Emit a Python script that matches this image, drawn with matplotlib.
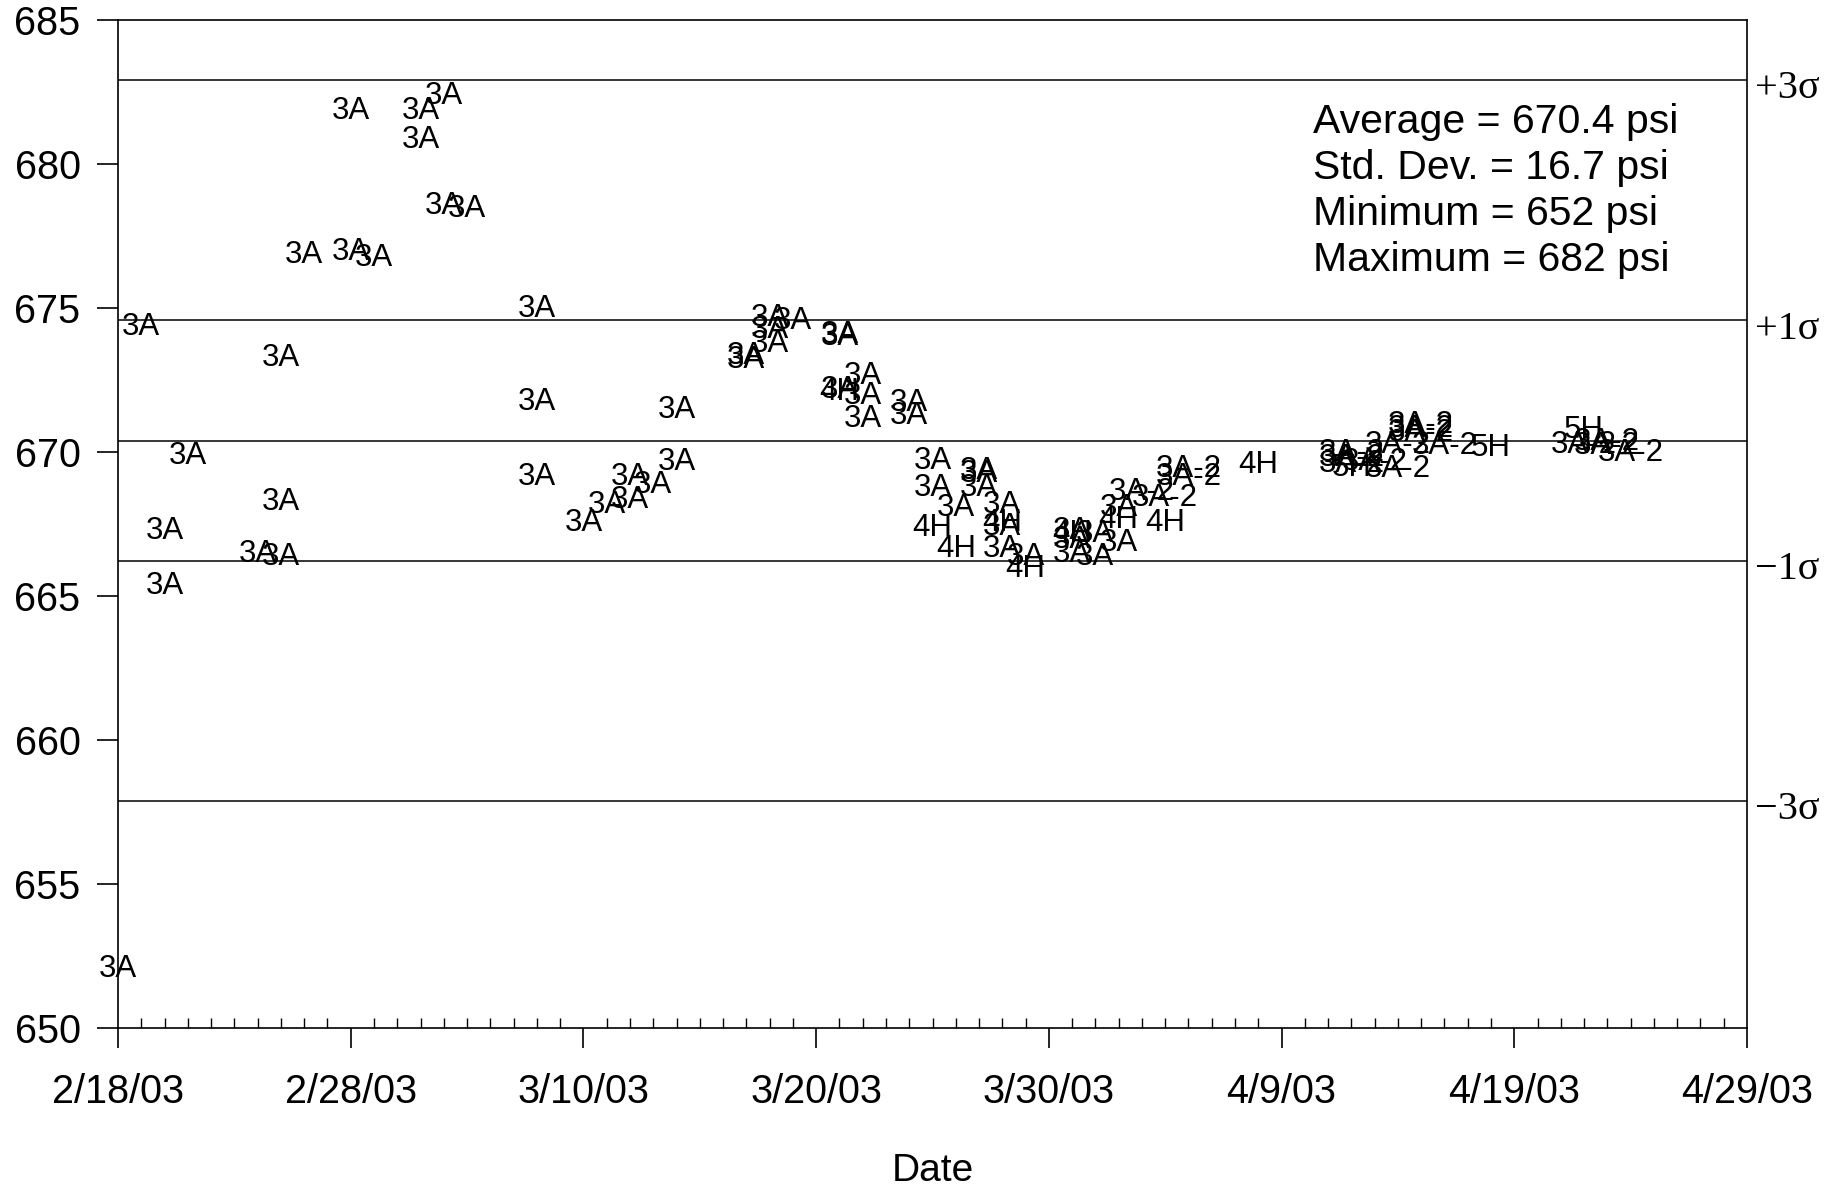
import matplotlib
matplotlib.use("Agg")
import matplotlib.pyplot as plt
import matplotlib.dates as mdates
import matplotlib.transforms as mtransforms
from matplotlib.ticker import FixedLocator, FuncFormatter
import pandas as pd

plt.rcParams["font.family"] = ["Liberation Sans", "DejaVu Sans"]

# readings labelled by sampling location
dates_3a = ["2/18/03", "2/19/03", "2/20/03", "2/20/03", "2/21/03", "2/24/03",
            "2/25/03", "2/25/03", "2/25/03", "2/26/03", "2/28/03", "2/28/03",
            "3/1/03", "3/3/03", "3/3/03", "3/4/03", "3/4/03", "3/5/03",
            "3/8/03", "3/8/03", "3/8/03", "3/10/03", "3/11/03", "3/12/03",
            "3/12/03", "3/13/03", "3/14/03", "3/14/03", "3/17/03", "3/17/03",
            "3/18/03", "3/18/03", "3/18/03", "3/19/03", "3/21/03", "3/21/03",
            "3/21/03", "3/22/03", "3/22/03", "3/22/03", "3/24/03", "3/24/03",
            "3/25/03", "3/25/03", "3/26/03", "3/27/03", "3/27/03", "3/27/03",
            "3/28/03", "3/28/03", "3/28/03", "3/29/03", "3/31/03", "3/31/03",
            "3/31/03", "4/1/03", "4/1/03", "4/2/03", "4/2/03"]
vals_3a = [652.1, 674.4, 667.3, 665.4, 669.9, 666.5,
           673.3, 668.3, 666.4, 676.9, 681.9, 677.0,
           676.8, 681.9, 680.9, 682.4, 678.6, 678.5,
           675.0, 671.8, 669.2, 667.6, 668.2, 669.2,
           668.4, 668.9, 671.5, 669.7, 673.4, 673.25,
           674.7, 674.3, 673.8, 674.6, 674.1, 674.05,
           672.2, 672.7, 672.0, 671.2, 671.75, 671.3,
           669.75, 668.8, 668.1, 669.4, 669.3, 668.8,
           668.2, 667.45, 666.7, 666.4, 667.3, 667.0,
           666.5, 667.2, 666.4, 666.9, 668.1]

dates_4h = ["3/21/03", "3/25/03", "3/26/03", "3/28/03", "3/29/03", "3/31/03",
            "4/2/03", "4/4/03", "4/8/03"]
vals_4h = [672.15, 667.4, 666.7, 667.6, 666.0, 667.2,
           667.7, 667.6, 669.6]

dates_3a2 = ["4/3/03", "4/4/03", "4/5/03", "4/5/03", "4/12/03", "4/12/03",
             "4/12/03", "4/13/03", "4/14/03", "4/14/03", "4/15/03", "4/15/03",
             "4/15/03", "4/16/03", "4/22/03", "4/23/03", "4/23/03", "4/24/03"]
vals_3a2 = [668.65, 668.45, 669.45, 669.2, 670.0, 669.85,
            669.65, 669.7, 669.45, 670.3, 671.0, 670.85,
            670.7, 670.25, 670.3, 670.25, 670.4, 670.0]

dates_5h = ["4/12/03", "4/18/03", "4/22/03"]
vals_5h = [669.5, 670.2, 670.8]

mean_psi = 670.4
sigma_lines = [3, 1, -1, -3]
sigma_width = 4.17
stats_lines = ["Average = 670.4 psi", "Std. Dev. = 16.7 psi",
               "Minimum = 652 psi", "Maximum = 682 psi"]

start, end = pd.Timestamp("2003-02-18"), pd.Timestamp("2003-04-29")

fig = plt.figure(figsize=(18.42, 11.86), dpi=100)
ax = fig.add_axes([0.0641, 0.1332, 0.8843, 0.8499])

series = [("3A", dates_3a, vals_3a), ("4H", dates_4h, vals_4h),
          ("3A-2", dates_3a2, vals_3a2), ("5H", dates_5h, vals_5h)]
for label, dts, vals in series:
    xs = mdates.date2num(pd.to_datetime(dts, format="%m/%d/%y"))
    for x, v in zip(xs, vals):
        ax.text(x, v - 0.05, label, ha="center", va="center",
                fontsize=22.5, color="black")

# average and sigma bands
ax.axhline(mean_psi, color="black", lw=1.1)
trans = mtransforms.blended_transform_factory(ax.transAxes, ax.transData)
for k in sigma_lines:
    yv = mean_psi + k * sigma_width
    ax.axhline(yv, color="black", lw=1.1)
    lab = f"+{k}σ" if k > 0 else f"−{abs(k)}σ"
    ax.text(1.005, yv - 0.3, lab, transform=trans, ha="left", va="center",
            fontsize=29, family=["Liberation Serif", "DejaVu Serif"])

for i, line in enumerate(stats_lines):
    ax.text(0.7338, 0.899 - i * 0.0457, line, transform=ax.transAxes,
            ha="left", va="center", fontsize=29.5)

ax.set_xlim(mdates.date2num(start), mdates.date2num(end))
ax.set_ylim(650, 685)
ax.set_yticks(range(650, 686, 5))
ax.xaxis.set_major_locator(FixedLocator(mdates.date2num(pd.date_range(start, end, freq="10D"))))
ax.xaxis.set_minor_locator(FixedLocator(mdates.date2num(pd.date_range(start, end, freq="D"))))
ax.xaxis.set_major_formatter(FuncFormatter(
    lambda x, pos: (lambda d: f"{d.month}/{d.day}/{d:%y}")(mdates.num2date(x))))

ax.tick_params(axis="y", which="major", direction="out", length=15, width=1.2,
               labelsize=28.5, pad=12, right=False)
ax.tick_params(axis="x", which="major", direction="out", length=14.5, width=1.2,
               labelsize=28.5, pad=18, top=False)
ax.tick_params(axis="x", which="minor", direction="in", length=7.5, width=1.0, top=False)

for sp in ax.spines.values():
    sp.set_linewidth(1.2)

ax.set_xlabel("Date", fontsize=28, labelpad=30)

fig.savefig("out.png", dpi=100)
